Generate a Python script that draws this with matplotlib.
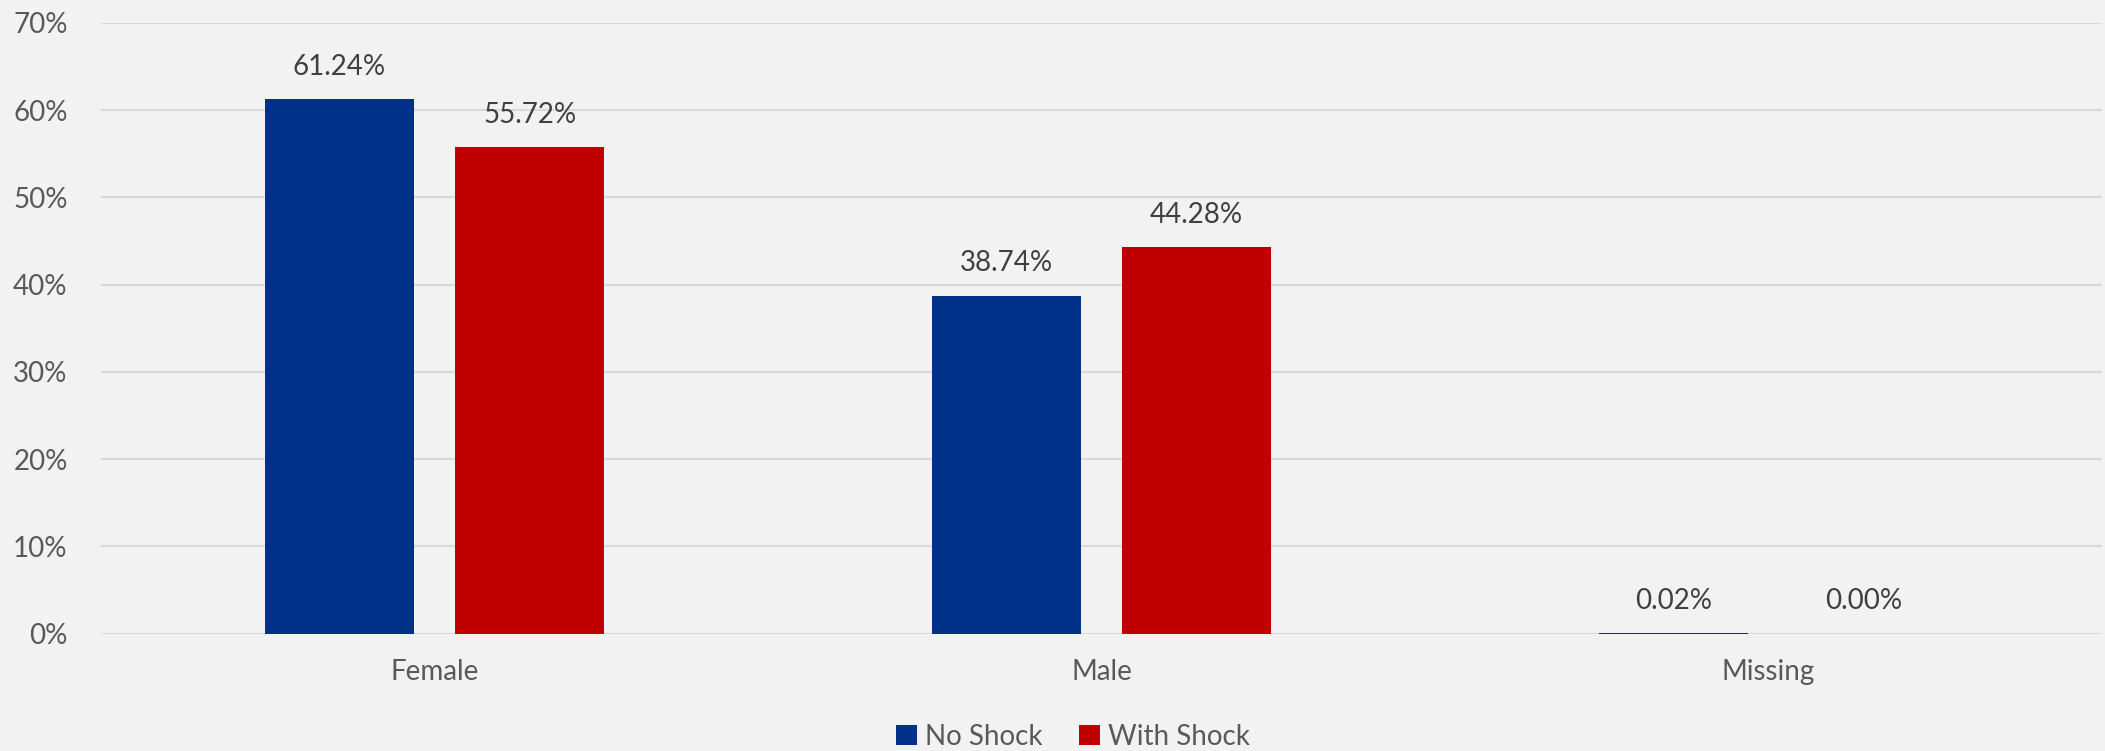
import matplotlib
matplotlib.use("Agg")
import matplotlib.pyplot as plt
import numpy as np
from matplotlib.patches import Patch

categories = ["Female", "Male", "Missing"]
no_shock = [61.24, 38.74, 0.02]
with_shock = [55.72, 44.28, 0.00]
series_names = ["No Shock", "With Shock"]
yticks = [0, 10, 20, 30, 40, 50, 60, 70]

BLUE = "#003087"
RED = "#C00000"
BG = "#F2F2F2"

plt.rcParams['font.family'] = ['Lato', 'DejaVu Sans']

fig = plt.figure(figsize=(21.05, 7.51), dpi=100, facecolor=BG)
ax = fig.add_axes([101/2105, 1-633.6/751, 2001/2105, (633.6-22.8)/751], facecolor=BG)

x = np.arange(len(categories))
w = 0.223
off = 0.1425
b1 = ax.bar(x - off, no_shock, w, color=BLUE, zorder=3)
b2 = ax.bar(x + off, with_shock, w, color=RED, zorder=3)

for bars, vals in ((b1, no_shock), (b2, with_shock)):
    for r, v in zip(bars, vals):
        ax.annotate(f"{v:.2f}%", (r.get_x() + r.get_width()/2, v),
                    xytext=(0, 14), textcoords="offset points",
                    ha="center", va="bottom", fontsize=20, color="#404040")

ax.set_xlim(-0.5, 2.5)
ax.set_ylim(0, 70)
ax.set_yticks(yticks)
ax.set_yticklabels([f"{t}%" for t in yticks])
ax.set_xticks(x)
ax.set_xticklabels(categories)
ax.tick_params(axis='both', length=0, labelsize=20, labelcolor="#595959")
ax.tick_params(axis='y', pad=24)
ax.tick_params(axis='x', pad=18)
ax.grid(axis='y', color="#D9D9D9", linewidth=1.5, zorder=0)
for s in ax.spines.values():
    s.set_visible(False)

handles = [Patch(facecolor=BLUE), Patch(facecolor=RED)]
fig.legend(handles, series_names, loc='center', bbox_to_anchor=(1073/2105, 1-737/751),
           ncol=2, frameon=False, fontsize=20, labelcolor="#595959",
           handlelength=0.75, handleheight=0.75, handletextpad=0.3, columnspacing=1.3)

fig.savefig("out.png", dpi=100, facecolor=BG)
